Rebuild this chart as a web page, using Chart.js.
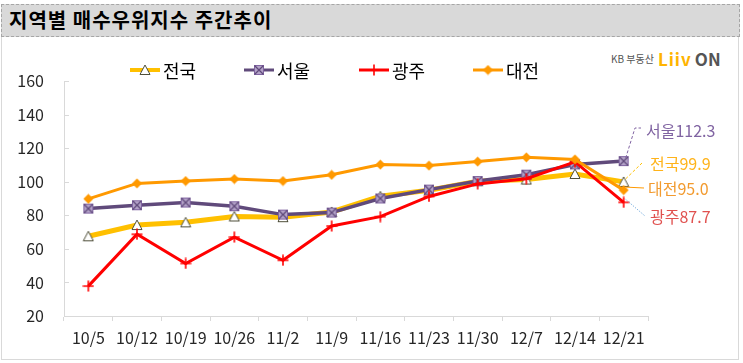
<!DOCTYPE html>
<html>
<head>
<meta charset="utf-8">
<script src="https://cdn.jsdelivr.net/npm/chart.js@4.4.1/dist/chart.umd.min.js"></script>
<style>
body{margin:0;width:743px;height:363px;background:#fff;position:relative;overflow:hidden;font-family:'Noto Sans CJK KR',sans-serif;}
#titlebar{position:absolute;left:1px;top:4px;width:737px;height:31px;background:#d9d9d9;border:1px dashed #a6a6a6;}
#titlebar span{position:absolute;left:7px;top:2px;font-size:20px;font-weight:bold;color:#000;line-height:26px;letter-spacing:1px;}
#box{position:absolute;left:1px;top:36px;width:736px;height:323px;border:1px solid #d9d9d9;border-top:none;}
#logo{position:absolute;left:611px;top:46px;white-space:nowrap;line-height:20px;}
#logo .kb{font-size:10px;color:#555;vertical-align:middle;}
#logo .liiv{font-size:17px;font-weight:bold;color:#ffb400;margin-left:4px;vertical-align:middle;letter-spacing:1px;}
#logo .on{font-size:17px;font-weight:bold;color:#555;margin-left:3px;vertical-align:middle;}
#wrap{position:absolute;left:0;top:0;width:743px;height:363px;}
</style>
</head>
<body>
<div id="box"></div>
<div id="titlebar"><span>지역별 매수우위지수 주간추이</span></div>
<div id="logo"><span class="kb">KB 부동산</span><span class="liiv">Liiv</span><span class="on">ON</span></div>
<div id="wrap"><canvas id="myChart" width="743" height="363"></canvas></div>
<script>
var weeks = ['10/5','10/12','10/19','10/26','11/2','11/9','11/16','11/23','11/30','12/7','12/14','12/21'];
var jeonguk = [67.5, 74.2, 75.8, 79.3, 78.9, 82.0, 91.3, 94.9, 100.3, 101.3, 104.6, 99.9];
var seoul = [84.0, 86.0, 87.6, 85.4, 80.4, 81.6, 90.0, 95.3, 100.4, 104.2, 110.3, 112.3];
var gwangju = [37.8, 68.7, 51.3, 67.0, 53.2, 73.6, 79.2, 91.2, 98.7, 101.8, 111.8, 87.7];
var daejeon = [89.8, 99.0, 100.4, 101.6, 100.4, 104.1, 110.2, 109.6, 112.0, 114.5, 113.3, 95.0];
var yTicks = [20, 40, 60, 80, 100, 120, 140, 160];

var axisColor = '#d9d9d9';
var tickFont = {family: "'Noto Sans CJK KR', sans-serif", size: 16};

// marker images
function makeMarker(size, draw) {
    var c = document.createElement('canvas');
    c.width = size;
    c.height = size;
    draw(c.getContext('2d'), size);
    return c;
}

var triMark = makeMarker(12, function(ctx, s) {
    ctx.beginPath();
    ctx.moveTo(s/2, 1);
    ctx.lineTo(s-1, s-1.5);
    ctx.lineTo(1, s-1.5);
    ctx.closePath();
    ctx.fillStyle = '#fff';
    ctx.fill();
    ctx.lineWidth = 1;
    ctx.strokeStyle = '#4f4f3a';
    ctx.stroke();
});

var seoulMark = makeMarker(12, function(ctx, s) {
    ctx.fillStyle = '#b3a2c7';
    ctx.fillRect(1, 1, s-2, s-2);
    ctx.strokeStyle = '#8064a2';
    ctx.lineWidth = 1;
    ctx.strokeRect(1.5, 1.5, s-3, s-3);
    ctx.strokeStyle = '#604a7b';
    ctx.lineWidth = 1.3;
    ctx.beginPath();
    ctx.moveTo(1.5, 1.5); ctx.lineTo(s-1.5, s-1.5);
    ctx.moveTo(s-1.5, 1.5); ctx.lineTo(1.5, s-1.5);
    ctx.stroke();
});

var crossMark = makeMarker(12, function(ctx, s) {
    ctx.strokeStyle = '#ff0000';
    ctx.lineWidth = 1.6;
    ctx.beginPath();
    ctx.moveTo(s/2, 0.5); ctx.lineTo(s/2, s-0.5);
    ctx.moveTo(0.5, s/2); ctx.lineTo(s-0.5, s/2);
    ctx.stroke();
});

var diamondMark = makeMarker(11, function(ctx, s) {
    ctx.fillStyle = '#ff9900';
    ctx.beginPath();
    ctx.moveTo(s/2, 0.5);
    ctx.lineTo(s-0.5, s/2);
    ctx.lineTo(s/2, s-0.5);
    ctx.lineTo(0.5, s/2);
    ctx.closePath();
    ctx.fill();
});

// legend: line start x for each dataset
var legendItems = [
    {ds: 0, x: 130, lineWidth: 4},
    {ds: 1, x: 244, lineWidth: 3},
    {ds: 2, x: 359, lineWidth: 3},
    {ds: 3, x: 473, lineWidth: 3}
];

var legendPlugin = {
    id: 'excelLegend',
    afterDraw: function(chart) {
        var ctx = chart.ctx;
        var y = 70;
        ctx.save();
        legendItems.forEach(function(item) {
            var ds = chart.data.datasets[item.ds];
            ctx.strokeStyle = ds.borderColor;
            ctx.lineWidth = item.lineWidth;
            ctx.beginPath();
            ctx.moveTo(item.x, y);
            ctx.lineTo(item.x + 30, y);
            ctx.stroke();
            var img = ds.pointStyle;
            ctx.drawImage(img, item.x + 15 - img.width/2, y - img.height/2);
            ctx.fillStyle = '#000';
            ctx.font = "18px 'Noto Sans CJK KR', sans-serif";
            ctx.textBaseline = 'middle';
            ctx.textAlign = 'left';
            ctx.fillText(ds.label, item.x + 33, y + 1);
        });
        ctx.restore();
    }
};

// y tick marks go inward
var yTickPlugin = {
    id: 'innerTicks',
    afterDraw: function(chart) {
        var ctx = chart.ctx;
        var scale = chart.scales.y;
        var left = chart.chartArea.left;
        ctx.save();
        ctx.strokeStyle = axisColor;
        ctx.lineWidth = 1;
        ctx.beginPath();
        yTicks.forEach(function(v) {
            var py = Math.round(scale.getPixelForValue(v)) + 0.5;
            ctx.moveTo(left, py);
            ctx.lineTo(left + 5, py);
        });
        ctx.stroke();
        ctx.restore();
    }
};

// end labels with leader lines
var endLabels = [
    {ds: 1, color: '#8064a2', lineColor: '#8064a2', dash: [3, 2], tx: 646, ty: 131, path: [[635, 128], [641, 128]]},
    {ds: 0, color: '#ffb31a', lineColor: '#ffc000', dash: [3, 2], tx: 650, ty: 164, path: [[642, 163]]},
    {ds: 3, color: '#f29a2e', lineColor: '#ff9900', dash: [], tx: 648, ty: 189, path: [[644, 188]]},
    {ds: 2, color: '#e0514f', lineColor: '#5b9bd5', dash: [1, 1.5], tx: 650, ty: 217, path: [[645, 216]]}
];

var endLabelPlugin = {
    id: 'endLabels',
    afterDatasetsDraw: function(chart) {
        var ctx = chart.ctx;
        ctx.save();
        endLabels.forEach(function(lab) {
            var meta = chart.getDatasetMeta(lab.ds);
            var pt = meta.data[meta.data.length - 1];
            var ds = chart.data.datasets[lab.ds];
            ctx.strokeStyle = lab.lineColor;
            ctx.lineWidth = 1;
            ctx.setLineDash(lab.dash);
            ctx.beginPath();
            ctx.moveTo(pt.x + 2, pt.y - 3);
            lab.path.forEach(function(p) { ctx.lineTo(p[0], p[1]); });
            ctx.stroke();
            ctx.setLineDash([]);
            ctx.fillStyle = lab.color;
            ctx.font = "16px 'Noto Sans CJK KR', sans-serif";
            ctx.textBaseline = 'middle';
            ctx.textAlign = 'left';
            ctx.fillText(ds.label + ds.data[ds.data.length - 1].toFixed(1), lab.tx, lab.ty);
        });
        ctx.restore();
    }
};

var ctx = document.getElementById('myChart');

var myChart = new Chart(ctx, {
    type: 'line',
    data: {
        labels: weeks,
        datasets: [{
            label: '전국',
            data: jeonguk,
            borderColor: '#ffc000',
            borderWidth: 5,
            pointStyle: triMark,
            order: 3
        }, {
            label: '서울',
            data: seoul,
            borderColor: '#604a7b',
            borderWidth: 3.5,
            pointStyle: seoulMark,
            order: 2
        }, {
            label: '광주',
            data: gwangju,
            borderColor: '#ff0000',
            borderWidth: 3,
            pointStyle: crossMark,
            order: 1
        }, {
            label: '대전',
            data: daejeon,
            borderColor: '#ff9900',
            borderWidth: 3,
            pointStyle: diamondMark,
            order: 0
        }]
    },
    options: {
        responsive: false,
        animation: false,
        events: [],
        layout: {
            padding: {left: 0, right: 95, top: 81, bottom: 0}
        },
        elements: {
            line: {tension: 0, fill: false},
            point: {radius: 5}
        },
        plugins: {
            legend: {display: false},
            tooltip: {enabled: false}
        },
        scales: {
            x: {
                offset: true,
                grid: {
                    offset: true,
                    drawOnChartArea: false,
                    drawTicks: true,
                    tickLength: 5,
                    color: axisColor
                },
                border: {display: true, color: axisColor},
                ticks: {
                    color: '#262626',
                    font: tickFont,
                    padding: 7,
                    maxRotation: 0,
                    autoSkip: false
                },
                afterFit: function(scale) { scale.height = 47; }
            },
            y: {
                min: 20,
                max: 160,
                grid: {drawOnChartArea: false, drawTicks: false},
                border: {display: true, color: axisColor},
                ticks: {
                    stepSize: 20,
                    color: '#262626',
                    font: tickFont,
                    padding: 20
                },
                afterFit: function(scale) { scale.width = 64; }
            }
        }
    },
    plugins: [yTickPlugin, endLabelPlugin, legendPlugin]
});
</script>
</body>
</html>
